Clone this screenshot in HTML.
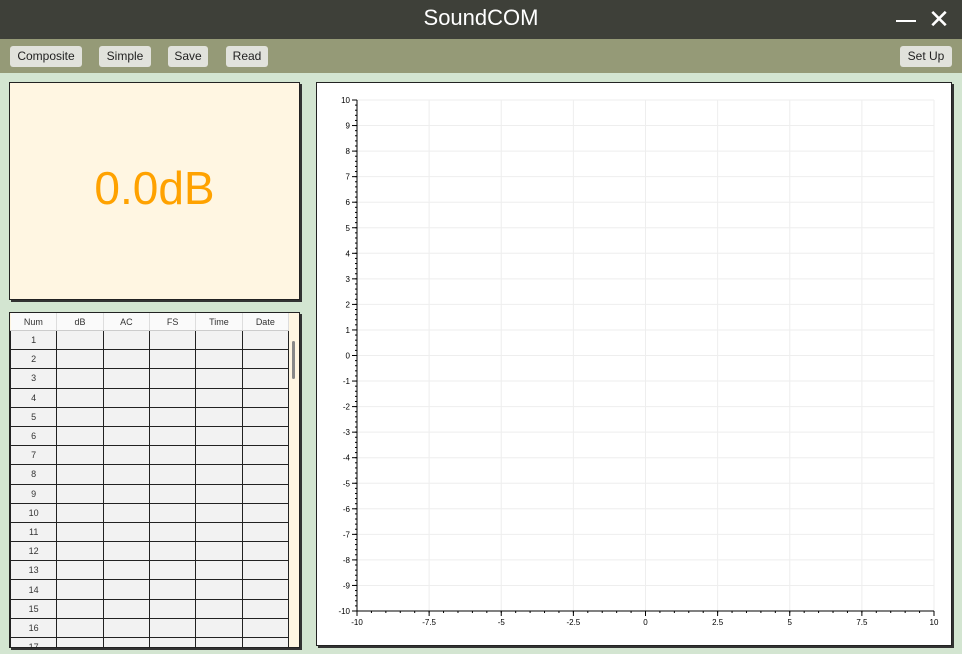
<!DOCTYPE html>
<html><head><meta charset="utf-8"><style>
body{margin:0;width:962px;height:654px;overflow:hidden;background:#d3e5d1;font-family:"Liberation Sans","DejaVu Sans",sans-serif;position:relative}
.abs{position:absolute}
.btn{position:absolute;top:46px;height:21px;background:#e1e2dc;border-radius:3px;font-size:12px;line-height:21px;text-align:center;color:#222}
table{border-collapse:collapse;font-size:9px;color:#333}
td{border:1px solid #222;height:18.2px;background:#f2f2f2;text-align:center;padding:0}
th{font-weight:normal;height:15px;background:#fafafa;border-right:1px solid #ddd;border-bottom:1px solid #ccc}
</style></head><body>
<div class="abs" style="left:0;top:0;width:962px;height:39px;background:#3e4039"></div>
<div class="abs" style="left:0;top:5px;width:962px;text-align:center;color:#fff;font-size:22px">SoundCOM</div>
<div class="abs" style="left:896px;top:20px;width:20px;height:2px;background:#fff"></div>
<div class="abs" style="left:926px;top:6px;width:26px;height:26px;color:#fff;font-size:26px;line-height:26px;text-align:center">✕</div>
<div class="abs" style="left:0;top:39px;width:962px;height:34px;background:#959a77"></div>
<div class="btn" style="left:10px;width:72px">Composite</div>
<div class="btn" style="left:99px;width:52px">Simple</div>
<div class="btn" style="left:168px;width:40px">Save</div>
<div class="btn" style="left:226px;width:42px">Read</div>
<div class="btn" style="left:900px;width:52px">Set Up</div>
<div class="abs" style="left:9px;top:82px;width:289px;height:216px;background:#fff6e2;border:1px solid #222;box-shadow:2px 2px 0 #333"></div>
<div class="abs" style="left:9px;top:160px;width:291px;text-align:center;color:#ffa200;font-size:46px;line-height:56px">0.0dB</div>
<div class="abs" style="left:9px;top:312px;width:289px;height:334px;background:#fff6e2;border:1px solid #222;box-shadow:2px 2px 0 #333;overflow:hidden">
<table style="width:279px;table-layout:fixed">
<thead><tr><th>Num</th><th>dB</th><th>AC</th><th>FS</th><th>Time</th><th>Date</th></tr></thead>
<tbody id="tb"></tbody></table>
<div class="abs" style="left:282px;top:28px;width:3px;height:38px;background:#888;border-radius:2px"></div>
</div>
<div class="abs" style="left:316px;top:82px;width:634px;height:562px;background:#fff;border:1px solid #222;box-shadow:2px 2px 0 #333"></div>
<svg class="abs" style="left:0;top:0" width="962" height="654" id="ch"></svg>
<script>
const tb=document.getElementById('tb');
for(let i=1;i<=17;i++){const tr=document.createElement('tr');


tr.innerHTML='<td>'+i+'</td><td></td><td></td><td></td><td></td><td></td>';tb.appendChild(tr);}
const xTicks=[-10,-7.5,-5,-2.5,0,2.5,5,7.5,10];
const yTicks=[10,9,8,7,6,5,4,3,2,1,0,-1,-2,-3,-4,-5,-6,-7,-8,-9,-10];
const X0=357,X1=934,Y0=100,Y1=611;
const sx=v=>X0+(v+10)/20*(X1-X0), sy=v=>Y1-(v+10)/20*(Y1-Y0);
const svg=document.getElementById('ch');let s='';
xTicks.forEach(v=>{const x=sx(v);s+=`<line x1="${x}" y1="${Y0}" x2="${x}" y2="${Y1}" stroke="#eee"/><line x1="${x}" y1="${Y1}" x2="${x}" y2="${Y1+5}" stroke="#000"/><text x="${x}" y="${Y1+14}" font-size="8" text-anchor="middle">${v}</text>`;});
yTicks.forEach(v=>{const y=sy(v);s+=`<line x1="${X0}" y1="${y}" x2="${X1}" y2="${y}" stroke="#eee"/><line x1="${X0-5}" y1="${y}" x2="${X0}" y2="${y}" stroke="#000"/><text x="${X0-7}" y="${y+3}" font-size="8" text-anchor="end">${v}</text>`;});
for(let v=-10;v<=10;v+=0.5){s+=`<line x1="${sx(v)}" y1="${Y1}" x2="${sx(v)}" y2="${Y1+2}" stroke="#000"/>`;}
for(let v=-10;v<=10;v+=0.2){s+=`<line x1="${X0-2}" y1="${sy(v)}" x2="${X0}" y2="${sy(v)}" stroke="#000"/>`;}
s+=`<line x1="${X0}" y1="${Y0}" x2="${X0}" y2="${Y1}" stroke="#000"/><line x1="${X0}" y1="${Y1}" x2="${X1}" y2="${Y1}" stroke="#000"/>`;
svg.innerHTML=s;
</script>
</body></html>
